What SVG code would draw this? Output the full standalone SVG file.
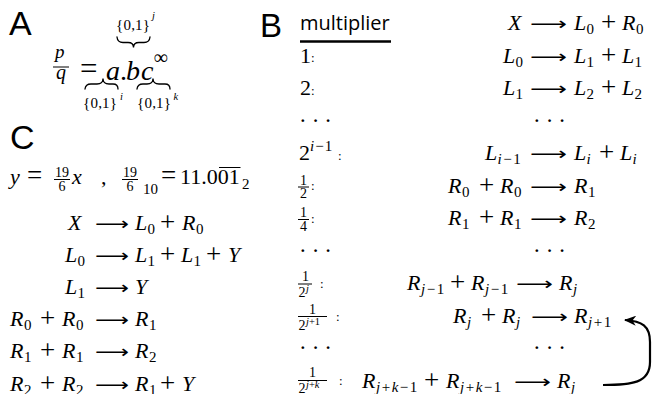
<svg xmlns="http://www.w3.org/2000/svg" width="653" height="394" viewBox="0 0 653 394">
<defs>
<style>
.m{font-family:"Liberation Serif","Times New Roman",serif;font-size:22px;fill:#000}
.i{font-style:italic}
.s{font-size:15px}
.s2{font-size:15px;letter-spacing:1.5px}
.f{font-size:14px}
.ss{font-size:10.5px}
.c{font-size:13px}
.op{font-size:27px}
.ar{font-family:"DejaVu Sans",sans-serif;font-size:18px;fill:#000}
.lbl{font-family:"Liberation Sans",Arial,sans-serif;font-size:34px;fill:#000}
.hd{font-family:"Open Sans",sans-serif;font-size:20px;fill:#000}
.dt{font-family:"Liberation Serif",serif;font-size:23px;letter-spacing:5px;fill:#000}
.br{fill:none;stroke:#000;stroke-width:1.3;stroke-linecap:round}
.bar{stroke:#000;stroke-width:1}
.conn{fill:none;stroke:#000;stroke-width:2.2}
</style>
<marker id="ah" viewBox="0 0 12 10" markerUnits="userSpaceOnUse" markerWidth="12" markerHeight="10" refX="11" refY="5" orient="auto">
<path d="M0,0 L12,5 L0,10 L3.5,5 z" fill="#000"/>
</marker>
</defs>
<rect width="653" height="394" fill="#fff"/>

<g id="panelA">
<text class="lbl" x="9" y="35">A</text>
<text class="m s" x="116" y="30" textLength="34" lengthAdjust="spacing">{0,1}</text>
<text class="m i ss" x="152" y="19">j</text>
<path class="br" d="M117,37 Q117.5,42.5 123,42.5 L128,42.5 Q133.5,42.5 133.5,47.5 Q133.5,42.5 139,42.5 L144,42.5 Q149.5,42.5 150,37"/>
<text class="m i" x="55" y="58" style="font-size:19px">p</text>
<line class="bar" x1="53" y1="67" x2="69" y2="67"/>
<text class="m i" x="56" y="78.5" style="font-size:20px">q</text>
<text class="m" x="80" y="79" style="font-size:31px">=</text>
<text class="m i" x="106" y="80" style="font-size:28px">a</text>
<text class="m" x="120" y="80" style="font-size:28px">.</text>
<text class="m i" x="126" y="80" style="font-size:28px">b</text>
<text class="m i" x="141" y="80" style="font-size:28px">c</text>
<text class="m" x="153.5" y="64" style="font-size:20px">∞</text>
<path class="br" d="M85,89 Q85.5,84 91,84 L97,84 Q103,84 103,78.5 Q103,84 109,84 L113,84 Q118,84 118,89"/>
<path class="br" d="M137,89 Q137.5,84 143,84 L147,84 Q153,84 153,78.5 Q153,84 159,84 L165,84 Q170,84 170,89"/>
<text class="m s" x="83" y="108" textLength="34" lengthAdjust="spacing">{0,1}</text>
<text class="m i ss" x="120" y="100">i</text>
<text class="m s" x="137" y="108" textLength="34" lengthAdjust="spacing">{0,1}</text>
<text class="m i ss" x="173.5" y="100">k</text>
</g>

<g id="panelC">
<text class="lbl" x="10" y="149">C</text>
<text class="m"><tspan class="i" x="10" y="184">y</tspan><tspan class="op" x="27" y="184">=</tspan><tspan class="f" x="55" y="177">19</tspan><tspan class="f" x="58.5" y="190.5">6</tspan><tspan class="i" x="72" y="184">x</tspan><tspan x="101" y="184">,</tspan><tspan class="f" x="123" y="177">19</tspan><tspan class="f" x="126.5" y="190.5">6</tspan><tspan class="s" x="143" y="194">10</tspan><tspan class="op" x="161" y="184">=</tspan><tspan x="180" y="184">11.001</tspan><tspan class="s" x="242" y="189">2</tspan></text>
<line class="bar" x1="54" y1="179.5" x2="70" y2="179.5"/>
<line class="bar" x1="122" y1="179.5" x2="138" y2="179.5"/>
<line class="bar" x1="219" y1="167.5" x2="240.5" y2="167.5"/>

<text class="m"><tspan class="i" x="68" y="230">X</tspan><tspan class="i" x="135" y="230">L</tspan><tspan class="s" x="147.5" y="234">0</tspan><tspan class="op" x="160" y="231">+</tspan><tspan class="i" x="182" y="230">R</tspan><tspan class="s" x="196" y="234">0</tspan></text>
<text class="ar" x="95" y="230" textLength="34" lengthAdjust="spacingAndGlyphs">⟶</text>

<text class="m"><tspan class="i" x="65" y="262">L</tspan><tspan class="s" x="77.5" y="266">0</tspan><tspan class="i" x="135" y="262">L</tspan><tspan class="s" x="147.5" y="266">1</tspan><tspan class="op" x="160" y="263">+</tspan><tspan class="i" x="181" y="262">L</tspan><tspan class="s" x="193.5" y="266">1</tspan><tspan class="op" x="206" y="263">+</tspan><tspan class="i" x="228" y="262">Y</tspan></text>
<text class="ar" x="95" y="262" textLength="34" lengthAdjust="spacingAndGlyphs">⟶</text>

<text class="m"><tspan class="i" x="65" y="294">L</tspan><tspan class="s" x="77.5" y="298">1</tspan><tspan class="i" x="135" y="294">Y</tspan></text>
<text class="ar" x="95" y="294" textLength="34" lengthAdjust="spacingAndGlyphs">⟶</text>

<text class="m"><tspan class="i" x="10" y="326">R</tspan><tspan class="s" x="24" y="330">0</tspan><tspan class="op" x="40" y="327">+</tspan><tspan class="i" x="62" y="326">R</tspan><tspan class="s" x="76" y="330">0</tspan><tspan class="i" x="135" y="326">R</tspan><tspan class="s" x="149" y="330">1</tspan></text>
<text class="ar" x="95" y="326" textLength="34" lengthAdjust="spacingAndGlyphs">⟶</text>

<text class="m"><tspan class="i" x="10" y="358">R</tspan><tspan class="s" x="24" y="362">1</tspan><tspan class="op" x="40" y="359">+</tspan><tspan class="i" x="62" y="358">R</tspan><tspan class="s" x="76" y="362">1</tspan><tspan class="i" x="135" y="358">R</tspan><tspan class="s" x="149" y="362">2</tspan></text>
<text class="ar" x="95" y="358" textLength="34" lengthAdjust="spacingAndGlyphs">⟶</text>

<text class="m"><tspan class="i" x="10" y="390.5">R</tspan><tspan class="s" x="24" y="394.5">2</tspan><tspan class="op" x="40" y="391.5">+</tspan><tspan class="i" x="62" y="390.5">R</tspan><tspan class="s" x="76" y="394.5">2</tspan><tspan class="i" x="135" y="390.5">R</tspan><tspan class="s" x="149" y="394.5">1</tspan><tspan class="op" x="160" y="391.5">+</tspan><tspan class="i" x="182" y="390.5">Y</tspan></text>
<text class="ar" x="95" y="390.5" textLength="34" lengthAdjust="spacingAndGlyphs">⟶</text>
</g>

<g id="panelB">
<text class="lbl" x="260" y="37" style="font-size:33px">B</text>
<text class="hd" x="300" y="30">multiplier</text>
<line x1="300" y1="41.5" x2="391" y2="41.5" stroke="#000" stroke-width="2.4"/>

<g id="multipliers">
<text class="m"><tspan x="300" y="62.5">1</tspan><tspan class="c" x="311" y="62">:</tspan></text>
<text class="m"><tspan x="300" y="95">2</tspan><tspan class="c" x="311" y="94.5">:</tspan></text>
<text class="dt" x="299" y="127.5">···</text>
<text class="m"><tspan x="299" y="160">2</tspan><tspan class="s" x="310" y="151" style="letter-spacing:1px"><tspan class="i">i</tspan>−1</tspan><tspan class="c" x="338" y="159.5">:</tspan></text>
<text class="m f"><tspan x="300" y="184.5">1</tspan><tspan x="300" y="198">2</tspan><tspan class="c" x="311" y="190">:</tspan></text>
<line class="bar" x1="298" y1="187" x2="309" y2="187"/>
<text class="m f"><tspan x="300" y="217">1</tspan><tspan x="300" y="230.5">4</tspan><tspan class="c" x="311" y="222.5">:</tspan></text>
<line class="bar" x1="298" y1="219.5" x2="309" y2="219.5"/>
<text class="dt" x="299" y="257.5">···</text>
<text class="m f"><tspan x="302" y="281">1</tspan><tspan x="298.5" y="297">2</tspan><tspan class="ss i" x="306" y="292">j</tspan><tspan class="c" x="320" y="288">:</tspan></text>
<line class="bar" x1="298" y1="284" x2="312" y2="284"/>
<text class="m f"><tspan x="309" y="313.5">1</tspan><tspan x="298.5" y="329.5">2</tspan><tspan class="ss" x="306" y="324.5"><tspan class="i">j</tspan>+1</tspan><tspan class="c" x="336" y="321">:</tspan></text>
<line class="bar" x1="298" y1="316.5" x2="327" y2="316.5"/>
<text class="dt" x="299" y="355">···</text>
<text class="m f"><tspan x="309" y="377">1</tspan><tspan x="298.5" y="392.5">2</tspan><tspan class="ss" x="306" y="387.5"><tspan class="i">j</tspan>+<tspan class="i">k</tspan></tspan><tspan class="c" x="339" y="385">:</tspan></text>
<line class="bar" x1="298" y1="380.5" x2="327" y2="380.5"/>
</g>

<g id="reactions">
<text class="m"><tspan class="i" x="508" y="30">X</tspan><tspan class="i" x="574" y="30">L</tspan><tspan class="s" x="586.5" y="34">0</tspan><tspan class="op" x="601" y="31">+</tspan><tspan class="i" x="622" y="30">R</tspan><tspan class="s" x="636" y="34">0</tspan></text>
<text class="ar" x="530" y="30" textLength="37" lengthAdjust="spacingAndGlyphs">⟶</text>

<text class="m"><tspan class="i" x="503" y="62.5">L</tspan><tspan class="s" x="515.5" y="66.5">0</tspan><tspan class="i" x="574" y="62.5">L</tspan><tspan class="s" x="586.5" y="66.5">1</tspan><tspan class="op" x="601" y="63.5">+</tspan><tspan class="i" x="622" y="62.5">L</tspan><tspan class="s" x="634.5" y="66.5">1</tspan></text>
<text class="ar" x="530" y="62.5" textLength="37" lengthAdjust="spacingAndGlyphs">⟶</text>

<text class="m"><tspan class="i" x="503" y="95">L</tspan><tspan class="s" x="515.5" y="99">1</tspan><tspan class="i" x="574" y="95">L</tspan><tspan class="s" x="586.5" y="99">2</tspan><tspan class="op" x="601" y="96">+</tspan><tspan class="i" x="622" y="95">L</tspan><tspan class="s" x="634.5" y="99">2</tspan></text>
<text class="ar" x="530" y="95" textLength="37" lengthAdjust="spacingAndGlyphs">⟶</text>

<text class="dt" x="533" y="127.5">···</text>

<text class="m"><tspan class="i" x="485" y="160">L</tspan><tspan class="s2" x="497.5" y="164"><tspan class="i">i</tspan>−1</tspan><tspan class="i" x="574" y="160">L</tspan><tspan class="s i" x="586.5" y="164">i</tspan><tspan class="op" x="599" y="161">+</tspan><tspan class="i" x="620" y="160">L</tspan><tspan class="s i" x="632.5" y="164">i</tspan></text>
<text class="ar" x="530" y="160" textLength="37" lengthAdjust="spacingAndGlyphs">⟶</text>

<text class="m"><tspan class="i" x="448" y="192.5">R</tspan><tspan class="s" x="462" y="196.5">0</tspan><tspan class="op" x="479" y="193.5">+</tspan><tspan class="i" x="500" y="192.5">R</tspan><tspan class="s" x="514" y="196.5">0</tspan><tspan class="i" x="574" y="192.5">R</tspan><tspan class="s" x="588" y="196.5">1</tspan></text>
<text class="ar" x="530" y="192.5" textLength="37" lengthAdjust="spacingAndGlyphs">⟶</text>

<text class="m"><tspan class="i" x="448" y="225">R</tspan><tspan class="s" x="462" y="229">1</tspan><tspan class="op" x="479" y="226">+</tspan><tspan class="i" x="500" y="225">R</tspan><tspan class="s" x="514" y="229">1</tspan><tspan class="i" x="574" y="225">R</tspan><tspan class="s" x="588" y="229">2</tspan></text>
<text class="ar" x="530" y="225" textLength="37" lengthAdjust="spacingAndGlyphs">⟶</text>

<text class="dt" x="533" y="257.5">···</text>

<text class="m"><tspan class="i" x="407" y="290">R</tspan><tspan class="s2" x="421" y="294"><tspan class="i">j</tspan>−1</tspan><tspan class="op" x="450" y="291">+</tspan><tspan class="i" x="471" y="290">R</tspan><tspan class="s2" x="485" y="294"><tspan class="i">j</tspan>−1</tspan><tspan class="i" x="559" y="290">R</tspan><tspan class="s i" x="573" y="294">j</tspan></text>
<text class="ar" x="516" y="290" textLength="37" lengthAdjust="spacingAndGlyphs">⟶</text>

<text class="m"><tspan class="i" x="453" y="322.5">R</tspan><tspan class="s i" x="467" y="326.5">j</tspan><tspan class="op" x="481" y="323.5">+</tspan><tspan class="i" x="502" y="322.5">R</tspan><tspan class="s i" x="516" y="326.5">j</tspan><tspan class="i" x="574" y="322.5">R</tspan><tspan class="s2" x="588" y="326.5"><tspan class="i">j</tspan>+1</tspan></text>
<text class="ar" x="531" y="322.5" textLength="37" lengthAdjust="spacingAndGlyphs">⟶</text>

<text class="dt" x="533" y="355">···</text>

<text class="m"><tspan class="i" x="362" y="387.5">R</tspan><tspan class="s2" x="376" y="391.5"><tspan class="i">j</tspan>+<tspan class="i">k</tspan>−1</tspan><tspan class="op" x="424" y="388.5">+</tspan><tspan class="i" x="446" y="387.5">R</tspan><tspan class="s2" x="460" y="391.5"><tspan class="i">j</tspan>+<tspan class="i">k</tspan>−1</tspan><tspan class="i" x="557" y="387.5">R</tspan><tspan class="s i" x="571" y="391.5">j</tspan></text>
<text class="ar" x="514" y="387.5" textLength="37" lengthAdjust="spacingAndGlyphs">⟶</text>
</g>
</g>

<g id="connectors">
<path class="conn" d="M603,385 C632,385 650,383 650,362 L650,342 C650,326 642,321 625,320" marker-end="url(#ah)"/>
</g>
</svg>
